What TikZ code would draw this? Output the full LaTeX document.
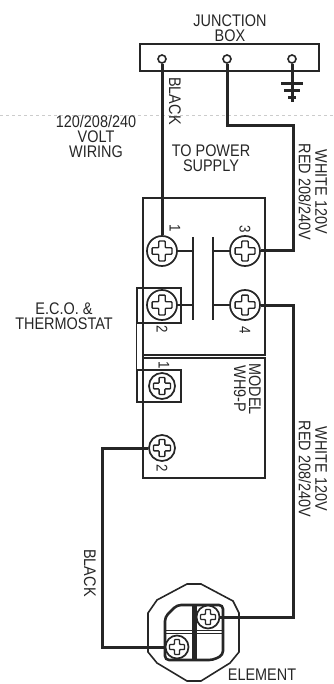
\documentclass[tikz,border=0pt]{standalone}
\usepackage{fontspec}
\setmainfont[FakeStretch=0.86]{Liberation Sans}
\usetikzlibrary{positioning,calc}
\definecolor{ink}{HTML}{262626}
\tikzset{
	lbl/.style={inner sep=0pt,align=center,text=ink,font=\fontsize{16.8}{15}\selectfont},
	numlbl/.style={inner sep=0pt,text=ink,rotate=-90,font=\fontsize{15.5}{15.5}\selectfont},
	wire/.style={draw=ink,line width=3pt},
	thin wire/.style={draw=ink,line width=1.4pt},
	box/.style={rectangle,draw=ink,line width=1.4pt,inner sep=0pt},
	post/.style={circle,draw=ink,line width=1.6pt,fill=white,inner sep=0pt,minimum size=8pt},
	screw/.style={circle,draw=ink,line width=1.7pt,fill=white,inner sep=0pt,minimum size=#1*2pt,
		path picture={\draw[ink,line width=1.3pt,rounded corners=.8pt,shift={(path picture bounding box.center)},x=#1*.22pt,y=#1*.22pt]
			(-1,-3)--(1,-3)--(1,-1)--(3,-1)--(3,1)--(1,1)--(1,3)--(-1,3)--(-1,1)--(-3,1)--(-3,-1)--(-1,-1)--cycle;}},
}
\begin{document}
\begin{tikzpicture}[x=1pt,y=-1pt]
	\useasboundingbox (0,0) rectangle (333,684);
	% fold mark
	\draw[gray!40,dashed,line width=.6pt] (0,115) -- (333,115);

	% boxes
	\node[box,minimum width=179pt,minimum height=27pt] (jbox) at (229.5,57.5) {};
	\node[box,minimum width=122pt,minimum height=157pt] (upper) at (204,276.5) {};
	\node[box,minimum width=122pt,minimum height=120pt] (lower) at (204,418) {};
	\node[box,minimum width=44pt,minimum height=35pt] (sq2) at (159,305.5) {};
	\node[box,minimum width=44pt,minimum height=32pt] (sq1) at (159,386) {};
	\draw[thin wire] (sq2.north west) -- (sq1.south west);
	\draw[thin wire] (143,288) -- (143,402);

	% junction posts
	\node[post] (jb1) at (162,59) {};
	\node[post] (jb2) at (227,59) {};
	\node[post] (jb3) at (292,59) {};

	% screws
	\node[screw=15] (s1) at (162,251) {};
	\node[screw=15] (s2) at (162,305) {};
	\node[screw=15] (s3) at (245,251) {};
	\node[screw=15] (s4) at (245,305) {};
	\node[screw=13] (t1) at (162,386) {};
	\node[screw=13] (t2) at (162,448) {};

	% contacts
	\coordinate (ca) at (193,237);
	\coordinate (cb) at (193,320);
	\coordinate (cc) at (213,237);
	\coordinate (cd) at (213,320);
	\draw[thin wire] (ca) -- (cb);
	\draw[thin wire] (cc) -- (cd);
	\draw[thin wire] (s1) -- (s1-|ca);
	\draw[thin wire] (s2) -- (s2-|ca);
	\draw[thin wire] (s3) -- (s3-|cc);
	\draw[thin wire] (s4) -- (s4-|cc);

	% ground
	\coordinate (gnd) at (292,102);
	\draw[wire] (jb3) -- (gnd);
	\draw[wire] (281,84) -- (303,84);
	\draw[wire] (284,91) -- (300,91);
	\draw[wire] (288,98) -- (296,98);

	% element
	\draw[ink,line width=1.6pt] (187,584) -- (201,584) -- (233,601) -- (239,613) -- (239,652) -- (230,663)
		-- (201,681) -- (187,681) -- (157,663) -- (148,652) -- (148,613) -- (157,600) -- cycle;
	\draw[ink,line width=2.6pt,fill=white,rounded corners=4pt] (165,617) -- (177,605) -- (223,605) -- (223,655)
		-- (213,660) -- (165,660) -- cycle;
	\draw[ink,line width=5pt] (194,605) -- (194,660);
	\draw[ink,line width=1pt] (165,630) -- (223,630);
	\draw[ink,line width=1pt] (165,633.5) -- (223,633.5);
	\node[screw=11.5] (e1) at (208,617) {};
	\node[screw=11.5] (e2) at (177,647) {};

	% wires
	\coordinate (bendw) at (293,126);
	\coordinate (bendr) at (293,617);
	\coordinate (bendb) at (102,448);
	\draw[wire] (jb1) -- (s1);
	\draw[wire] (jb2) |- (bendw) |- (s3);
	\draw[wire] (s4) -| (bendr) -- (e1);
	\draw[wire] (t2) -- (bendb) |- (e2);

	% labels
	\node[lbl] (ljunction) at (230,28) {JUNCTION\\BOX};
	\node[lbl,rotate=-90] (lblack) at (175,101) {BLACK};
	\node[lbl] (lpower) at (211,158) {TO POWER\\SUPPLY};
	\node[lbl] (lvolt) at (96,136.5) {120/208/240\\VOLT\\WIRING};
	\node[lbl,rotate=-90] (lred) at (313,192) {WHITE 120V\\[1.5pt]RED 208/240V};
	\node[lbl] (leco) at (64,316) {E.C.O. \&\\THERMOSTAT};
	\node[lbl,rotate=-90] (lmodel) at (247.5,389) {MODEL\\WH9-P};
	\node[lbl,rotate=-90] (lredb) at (313,469) {WHITE 120V\\[1.5pt]RED 208/240V};
	\node[lbl,rotate=-90] (lblackb) at (90,573) {BLACK};
	\node[lbl] (lelement) at (262,675) {ELEMENT};
	\node[numlbl] (n1) at (175,228) {1};
	\node[numlbl] (n3) at (245,229) {3};
	\node[numlbl] (n2) at (162,329) {2};
	\node[numlbl] (n4) at (245,330) {4};
	\node[numlbl] (n5) at (164,365) {1};
	\node[numlbl] (n6) at (162,468) {2};
\end{tikzpicture}
\end{document}
